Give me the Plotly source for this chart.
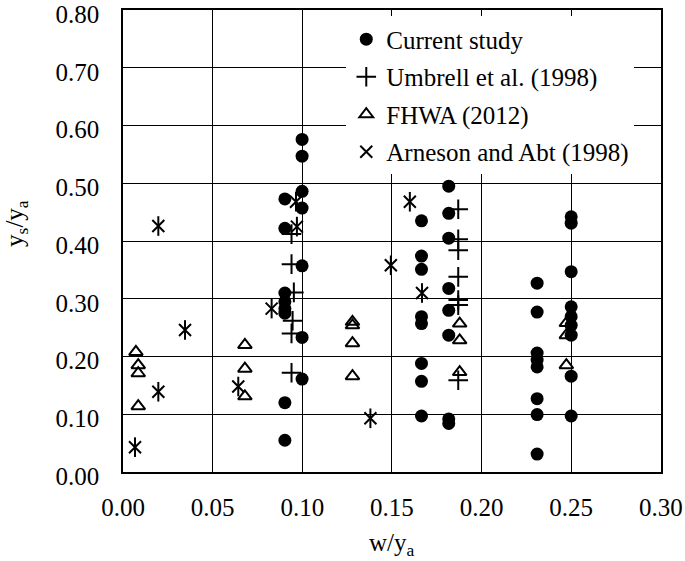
import plotly.graph_objects as go

# ---- data ----
cur_x = [0.0903]*8 + [0.0999]*7 + [0.1665]*8 + [0.1817]*8 + [0.231]*8 + [0.250]*9
cur_y = [0.473, 0.422, 0.310, 0.295, 0.283, 0.275, 0.120, 0.055,
         0.576, 0.547, 0.486, 0.457, 0.357, 0.233, 0.161,
         0.435, 0.374, 0.351, 0.269, 0.257, 0.188, 0.157, 0.097,
         0.495, 0.448, 0.405, 0.318, 0.280, 0.237, 0.092, 0.084,
         0.327, 0.277, 0.206, 0.194, 0.182, 0.127, 0.0995, 0.031,
         0.442, 0.431, 0.347, 0.286, 0.269, 0.254, 0.237, 0.166, 0.097]

umb_x = [0.094, 0.094, 0.0953, 0.0946, 0.094, 0.094,
         0.187, 0.187, 0.187, 0.187, 0.187, 0.187, 0.187]
umb_y = [0.412, 0.360, 0.311, 0.262, 0.240, 0.172,
         0.455, 0.403, 0.384, 0.338, 0.298, 0.289, 0.159]

fhwa_x = [0.0072, 0.0085, 0.0085, 0.0085,
          0.068, 0.068, 0.068,
          0.128, 0.128, 0.128, 0.128,
          0.1878, 0.1878, 0.1878,
          0.2473, 0.2473, 0.2473]
fhwa_y = [0.208, 0.185, 0.171, 0.114,
          0.220, 0.179, 0.131,
          0.260, 0.254, 0.223, 0.166,
          0.257, 0.228, 0.173,
          0.258, 0.237, 0.185]

arn_x = [0.0067, 0.0197, 0.0197, 0.0346, 0.0643, 0.0829,
         0.0965, 0.097, 0.138, 0.1494, 0.160, 0.1668]
arn_y = [0.043, 0.139, 0.426, 0.246, 0.148, 0.283,
         0.468, 0.425, 0.093, 0.358, 0.468, 0.310]

x_ticks = [0.00, 0.05, 0.10, 0.15, 0.20, 0.25, 0.30]
y_ticks = [0.00, 0.10, 0.20, 0.30, 0.40, 0.50, 0.60, 0.70, 0.80]

FONT = "Liberation Serif, Times New Roman, serif"
TFS = 25   # tick labels / titles
LFS = 25   # legend
fig = go.Figure()

fig.add_trace(go.Scatter(x=cur_x, y=cur_y, mode="markers", name="Current study",
                         legendgroup="a",
                         marker=dict(symbol="circle", size=13, color="black")))
fig.add_trace(go.Scatter(x=umb_x, y=umb_y, mode="markers", name="Umbrell et al. (1998)",
                         legendgroup="b",
                         marker=dict(symbol="cross-thin-open", size=14, color="black",
                                     line=dict(color="black", width=2))))
fig.add_trace(go.Scatter(x=fhwa_x, y=fhwa_y, mode="markers", name="FHWA (2012)",
                         legendgroup="c",
                         marker=dict(symbol="triangle-up-open", size=12, color="black",
                                     line=dict(color="black", width=2))))
fig.add_trace(go.Scatter(x=arn_x, y=arn_y, mode="markers", name="Arneson and Abt (1998)",
                         legendgroup="d",
                         marker=dict(symbol="x-thin-open", size=12, color="black",
                                     line=dict(color="black", width=2))))
fig.add_trace(go.Scatter(x=arn_x, y=arn_y, mode="markers", showlegend=False,
                         legendgroup="d", hoverinfo="skip",
                         marker=dict(symbol="line-ns-open", size=14, color="black",
                                     line=dict(color="black", width=2))))

axis_common = dict(showline=True, linecolor="black", linewidth=1.5, mirror=True,
                   showgrid=True, gridcolor="black", gridwidth=1,
                   zeroline=False, ticks="", tickformat=".2f", automargin=False,
                   ticklabeloverflow="allow",
                   tickfont=dict(family=FONT, size=TFS, color="black"))

fig.update_xaxes(range=[0, 0.3001], tickvals=x_ticks, ticklabelstandoff=12, **axis_common)
fig.update_yaxes(range=[0, 0.8001], tickvals=y_ticks, ticklabelstandoff=17,
                 ticklabelshift=4, **axis_common)

fig.update_layout(
    width=685, height=561,
    margin=dict(l=123, r=24, t=10, b=89),
    plot_bgcolor="white", paper_bgcolor="white",
    font=dict(family=FONT, size=TFS, color="black"),
    legend=dict(x=0.415, y=0.986, xanchor="left", yanchor="top",
                bgcolor="white", borderwidth=0, traceorder="grouped",
                tracegroupgap=2, itemwidth=30,
                font=dict(family=FONT, size=LFS, color="black")),
    annotations=[
        dict(text="w/y<sub>a</sub>", xref="paper", yref="paper", x=0.5, y=-0.158,
             xanchor="center", yanchor="middle", showarrow=False,
             font=dict(family=FONT, size=TFS, color="black")),
        dict(text="y<sub>s</sub>/y<sub>a</sub>", xref="paper", yref="paper",
             x=-0.197, y=0.537, xanchor="center", yanchor="middle", textangle=-90,
             showarrow=False, font=dict(family=FONT, size=TFS, color="black")),
    ],
)

fig.write_html("out.html", config={"displayModeBar": False},
               post_script="document.body.style.margin='0';document.body.style.padding='0';")
